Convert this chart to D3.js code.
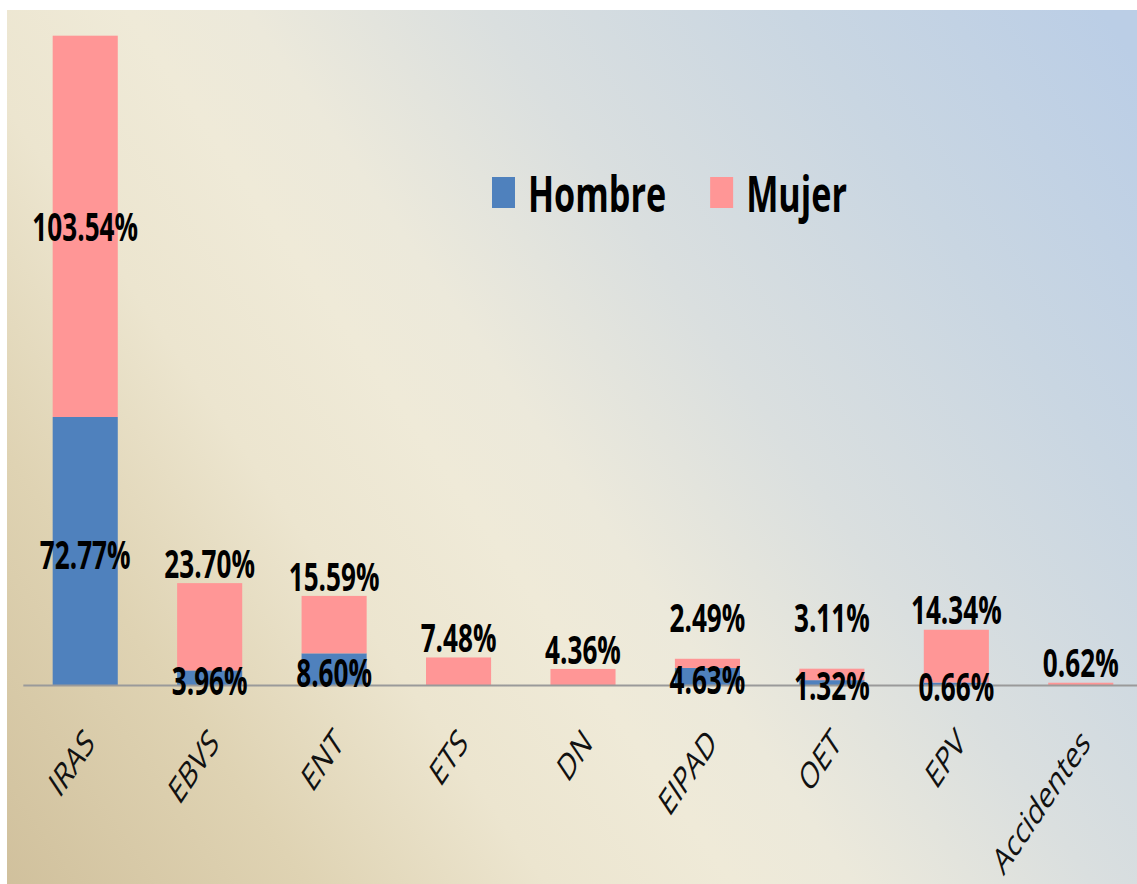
<!DOCTYPE html>
<meta charset="utf-8">
<head>
	<title>Hombre / Mujer</title>
	<style>
		body { margin: 0; background: #fff; }
		svg { display: block; }
		.lbl { font: bold 39px "Open Sans"; fill: #000; }
		.legendText { font: bold 51px "Open Sans"; fill: #000; }
		.axis text { font: 37px "Open Sans"; fill: #111; }
		.axis path { stroke: #9a9a9a; stroke-width: 2; }
	</style>
	<script src="https://d3js.org/d3.v7.min.js"></script>
</head>
<body>
	<div id="graph"></div>
	<script>
		// chart data
		const categories = ['IRAS', 'EBVS', 'ENT', 'ETS', 'DN', 'EIPAD', 'OET', 'EPV', 'Accidentes'];
		const hombre = [72.77, 3.96, 8.60, 0, 0, 4.63, 1.32, 0.66, 0];
		const mujer = [103.54, 23.70, 15.59, 7.48, 4.36, 2.49, 3.11, 14.34, 0.62];
		const seriesNames = ['Hombre', 'Mujer'];
		const seriesColors = ['#4f81bd', '#ff9696'];

		const W = 1137, H = 884;
		const SX = 0.67; // the original picture is squeezed horizontally

		const svg = d3.select('#graph').append('svg').attr('width', W).attr('height', H);

		// background gradient, tan at bottom left -> cream -> light blue at top right
		const grad = svg.append('defs').append('linearGradient').attr('id', 'bg')
			.attr('gradientUnits', 'userSpaceOnUse')
			.attr('x1', 0).attr('y1', 884).attr('x2', 1152).attr('y2', 83);
		[[0, '#d0c09c'], [0.18, '#dfd3b3'], [0.32, '#ece5cf'], [0.43, '#efead8'], [0.5, '#ece9db'],
			[0.64, '#dadfdf'], [0.82, '#c9d6e2'], [1, '#bbcee6']]
			.forEach(s => grad.append('stop').attr('offset', s[0]).attr('stop-color', s[1]));
		svg.append('rect').attr('x', 7).attr('y', 10).attr('width', W - 7).attr('height', H - 10).attr('fill', 'url(#bg)');

		const g = svg.append('g').attr('transform', `scale(${SX},1)`);

		const rows = categories.map((c, i) => ({cat: c, Hombre: hombre[i], Mujer: mujer[i]}));
		const stack = d3.stack().keys(seriesNames)(rows);

		const x = d3.scaleBand().domain(categories)
			.range([23 / SX, 1143 / SX]).paddingInner(0.477).paddingOuter(0.2385);
		const y = d3.scaleLinear().domain([0, 180]).range([685, 22.1]);

		// bars
		g.selectAll('.series').data(stack).join('g')
			.attr('fill', (d, i) => seriesColors[i])
			.selectAll('rect').data(d => d.filter(p => p[1] - p[0] > 0)).join('rect')
			.attr('x', d => x(d.data.cat))
			.attr('width', x.bandwidth())
			.attr('y', d => y(d[1]))
			.attr('height', d => y(d[0]) - y(d[1]));

		// axis with rotated labels
		g.append('g').attr('class', 'axis').attr('transform', `translate(0,${y(0)})`)
			.call(d3.axisBottom(x).tickSize(0).tickSizeOuter(0))
			.call(a => a.selectAll('text')
				.attr('x', null).attr('y', null).attr('dy', null)
				.attr('text-anchor', 'end')
				.attr('transform', 'translate(16,60) rotate(-45)'));

		// labels: Hombre centred on its segment
		g.selectAll('.lblH').data(rows.filter(r => r.Hombre > 0)).join('text')
			.attr('class', 'lbl')
			.attr('text-anchor', 'middle').attr('dominant-baseline', 'central')
			.attr('x', d => x(d.cat) + x.bandwidth() / 2)
			.attr('y', d => (y(0) + y(d.Hombre)) / 2 + 3)
			.text(d => d.Hombre.toFixed(2) + '%');

		// labels: Mujer centred when tall enough, otherwise above the bar
		g.selectAll('.lblM').data(rows).join('text')
			.attr('class', 'lbl')
			.attr('text-anchor', 'middle').attr('dominant-baseline', 'central')
			.attr('x', d => x(d.cat) + x.bandwidth() / 2)
			.attr('y', d => {
				const top = y(d.Hombre + d.Mujer), bot = y(d.Hombre);
				if (bot - top > 150) return (top + bot) / 2;
				return d.Hombre > 0 ? Math.min(top - 20, y(0) - 68) : top - 20;
			})
			.text(d => d.Mujer.toFixed(2) + '%');

		// legend
		const legend = g.append('g').attr('transform', `translate(${492 / SX},177)`);
		let lx = 0;
		seriesNames.forEach((name, i) => {
			const item = legend.append('g').attr('transform', `translate(${lx},0)`);
			item.append('rect').attr('width', 23 / SX).attr('height', 31).attr('fill', seriesColors[i]);
			const t = item.append('text').attr('class', 'legendText')
				.attr('x', 36 / SX).attr('y', 35).text(name);
			lx += 36 / SX + t.node().getComputedTextLength() + 44 / SX;
		});
	</script>
</body>
